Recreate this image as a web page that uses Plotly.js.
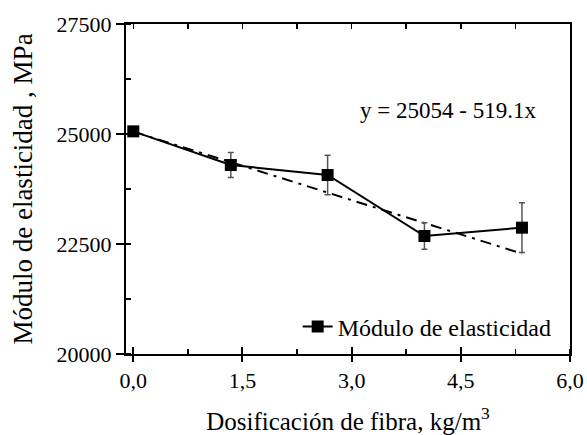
<!DOCTYPE html>
<html>
<head>
<meta charset="utf-8">
<script src="https://cdn.plot.ly/plotly-3.0.1.min.js"></script>
<style>html,body{margin:0;padding:0;background:#fff;font-family:'Liberation Serif',serif;}#chart{width:587px;height:435px;}</style>
</head>
<body>
<div id="chart"></div>
<script>
// Data
const dosificacion = [0, 1.34, 2.67, 4.0, 5.34];
const modulo = [25060, 24295, 24068, 22682, 22871];
const errorModulo = [0, 284, 448, 300, 565];
const trendX = [0, 5.34];
const trendY = [25054, 22282];
const xTickVals = [0, 1.5, 3.0, 4.5, 6.0];
const xTickText = ["0,0", "1,5", "3,0", "4,5", "6,0"];
const yTickVals = [20000, 22500, 25000, 27500];
const yTickText = ["20000", "22500", "25000", "27500"];
const equationText = "y = 25054 - 519.1x";
const seriesName = "Módulo de elasticidad";

const FONT = "Liberation Serif";
const xRange = [-0.1, 6.0];
const yRange = [20000, 27500];

const traces = [
  {
    x: trendX, y: trendY, type: "scatter", mode: "lines",
    line: {color: "#000", width: 2, dash: "11px,6px,3px,6px"},
    showlegend: false, hoverinfo: "skip"
  },
  {
    x: dosificacion, y: modulo, type: "scatter", mode: "lines+markers",
    name: seriesName,
    line: {color: "#000", width: 2},
    marker: {symbol: "square", size: 12, color: "#000"},
    error_y: {type: "data", array: errorModulo, visible: true, color: "#555", thickness: 1.5, width: 3}
  }
];

const layout = {
  width: 587, height: 435,
  margin: {l: 126, r: 17, t: 24, b: 81},
  paper_bgcolor: "#fff", plot_bgcolor: "#fff",
  font: {family: FONT, color: "#000", size: 22},
  showlegend: true,
  legend: {
    x: 0.97, y: 0.082, xanchor: "right", yanchor: "middle",
    bgcolor: "rgba(0,0,0,0)", font: {family: FONT, size: 24, color: "#000"}
  },
  xaxis: {
    range: xRange, showgrid: false, zeroline: false,
    showline: true, linecolor: "#000", linewidth: 2, mirror: true,
    tickmode: "array", tickvals: xTickVals, ticktext: xTickText,
    ticks: "outside", ticklen: 6, tickwidth: 2, tickcolor: "#000",
    minor: {ticks: "inside", dtick: 0.75, tick0: 0, ticklen: 5, tickwidth: 1.5, tickcolor: "#000"},
    tickfont: {family: FONT, size: 22, color: "#000"},
    title: {text: "Dosificación de fibra, kg/m<sup>3</sup>", font: {family: FONT, size: 25, color: "#000"}, standoff: 24}
  },
  xaxis2: {
    overlaying: "x", side: "top", range: xRange, showgrid: false, zeroline: false,
    showline: false, showticklabels: false,
    tickmode: "linear", tick0: 0, dtick: 0.75,
    ticks: "inside", ticklen: 5, tickwidth: 1.5, tickcolor: "#000"
  },
  xaxis3: {
    overlaying: "x", side: "bottom", range: xRange, showgrid: false, zeroline: false,
    showline: false, showticklabels: false,
    tickmode: "array", tickvals: xTickVals,
    ticks: "inside", ticklen: 7, tickwidth: 2, tickcolor: "#000"
  },
  yaxis: {
    range: yRange, showgrid: false, zeroline: false,
    showline: true, linecolor: "#000", linewidth: 2, mirror: true,
    tickmode: "array", tickvals: yTickVals, ticktext: yTickText,
    ticks: "outside", ticklen: 8, tickwidth: 2, tickcolor: "#000",
    minor: {ticks: "inside", dtick: 1250, tick0: 20000, ticklen: 5, tickwidth: 1.5, tickcolor: "#000"},
    tickfont: {family: FONT, size: 22, color: "#000"},
    title: {text: "Módulo de elasticidad , MPa", font: {family: FONT, size: 27, color: "#000"}, standoff: 16}
  },
  annotations: [
    {x: 4.33, y: 25530, xref: "x", yref: "y", text: equationText, showarrow: false,
     font: {family: FONT, size: 23, color: "#000"}, xanchor: "center", yanchor: "middle"}
  ]
};

// invisible traces on the overlay x axes so their tick marks are drawn
traces.push({x: [0], y: [20000], xaxis: "x2", yaxis: "y", type: "scatter", mode: "markers",
  marker: {opacity: 0}, showlegend: false, hoverinfo: "skip"});
traces.push({x: [0], y: [20000], xaxis: "x3", yaxis: "y", type: "scatter", mode: "markers",
  marker: {opacity: 0}, showlegend: false, hoverinfo: "skip"});

Plotly.newPlot("chart", traces, layout, {displayModeBar: false, staticPlot: true});
</script>
</body>
</html>
